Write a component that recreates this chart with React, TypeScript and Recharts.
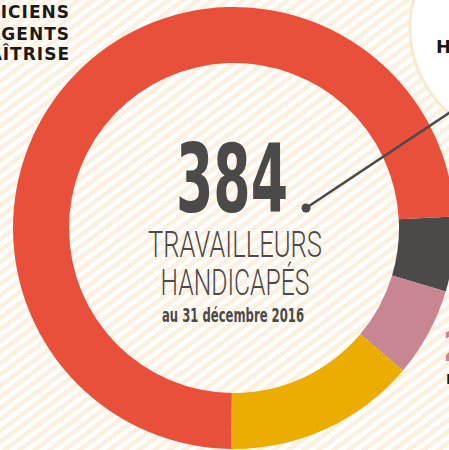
import { PieChart, Pie, Cell } from "recharts";

const categories = ["Catégorie A", "Catégorie B", "Catégorie C", "Techniciens et agents de maîtrise"];
const values = [21, 25, 54, 284];
const colors = ["#4b4a48", "#c78692", "#eaad00", "#e8503c"];

const total = values.reduce((s, v) => s + v, 0);
const data = categories.map((name, i) => ({ name, value: values[i] }));

const W = 449;
const H = 450;
const CX = 234;
const CY = 228;

const ink = "#4b4a48";

export default function App() {
  return (
    <div
      style={{
        position: "fixed",
        left: 0,
        top: 0,
        width: W,
        height: H,
        overflow: "hidden",
        background: "repeating-linear-gradient(143deg, #fcf0e0 0px, #fcf0e0 4.5px, #ffffff 4.5px, #ffffff 9px)",
      }}
    >
      <div style={{ position: "absolute", left: 0, top: 0 }}>
        <PieChart width={W} height={H} margin={{ top: 0, right: 0, bottom: 0, left: 0 }}>
          <Pie
            data={data}
            dataKey="value"
            nameKey="name"
            cx={CX}
            cy={CY}
            innerRadius={165}
            outerRadius={221}
            startAngle={3}
            endAngle={-357}
            stroke="none"
            isAnimationActive={false}
          >
            {data.map((d, i) => (
              <Cell key={d.name} fill={colors[i]} />
            ))}
          </Pie>
        </PieChart>
      </div>
      <svg width={W} height={H} style={{ position: "absolute", left: 0, top: 0, pointerEvents: "none" }}>
        {/* bulle en haut à droite */}
        <circle cx={522} cy={28} r={112} fill="#ffffff" stroke="#f8e9d3" strokeWidth={3} />
        <text x={436} y={53} fontFamily="'DejaVu Sans', sans-serif" fontWeight={700} fontSize={18} fill="#1a1a1a">
          H
        </text>

        {/* libellé de la part principale, coupé à gauche */}
        <g fontFamily="'DejaVu Sans', sans-serif" fontWeight={700} fontSize={17} fill="#1a1a1a" textAnchor="end" letterSpacing={1}>
          <text x={70} y={18}>TECHNICIENS</text>
          <text x={70} y={40}>ET AGENTS</text>
          <text x={70} y={60}>DE MAÎTRISE</text>
        </g>

        {/* libellés coupés en bas à droite */}
        <text x={443} y={361} fontFamily="'Liberation Sans Narrow', 'DejaVu Sans Condensed', sans-serif" fontWeight={700} fontSize={40} fill="#c78692">
          2
        </text>
        <text x={446} y={384} fontFamily="'DejaVu Sans', sans-serif" fontWeight={700} fontSize={14} fill="#1a1a1a">
          E
        </text>

        {/* trait de rappel */}
        <line x1={306} y1={208} x2={452} y2={111} stroke={ink} strokeWidth={2.5} />
        <circle cx={306} cy={208} r={4.5} fill={ink} />

        {/* centre */}
        <text
          x={232}
          y={212}
          textAnchor="middle"
          fontFamily="'Liberation Sans Narrow', 'DejaVu Sans Condensed', sans-serif"
          fontWeight={700}
          fontSize={95}
          fill={ink}
          textLength={112}
          lengthAdjust="spacingAndGlyphs"
        >
          {total}
        </text>
        <text
          x={235}
          y={257}
          textAnchor="middle"
          fontFamily="Roboto, 'DejaVu Sans', sans-serif"
          fontWeight={300}
          fontSize={37}
          fill={ink}
          textLength={174}
          lengthAdjust="spacingAndGlyphs"
        >
          TRAVAILLEURS
        </text>
        <text
          x={235}
          y={295}
          textAnchor="middle"
          fontFamily="Roboto, 'DejaVu Sans', sans-serif"
          fontWeight={300}
          fontSize={37}
          fill={ink}
          textLength={149}
          lengthAdjust="spacingAndGlyphs"
        >
          HANDICAPÉS
        </text>
        <text
          x={233}
          y={322}
          textAnchor="middle"
          fontFamily="'Liberation Sans Narrow', 'DejaVu Sans Condensed', sans-serif"
          fontWeight={700}
          fontSize={19}
          fill={ink}
          textLength={142}
          lengthAdjust="spacingAndGlyphs"
        >
          au 31 décembre 2016
        </text>
      </svg>
    </div>
  );
}
